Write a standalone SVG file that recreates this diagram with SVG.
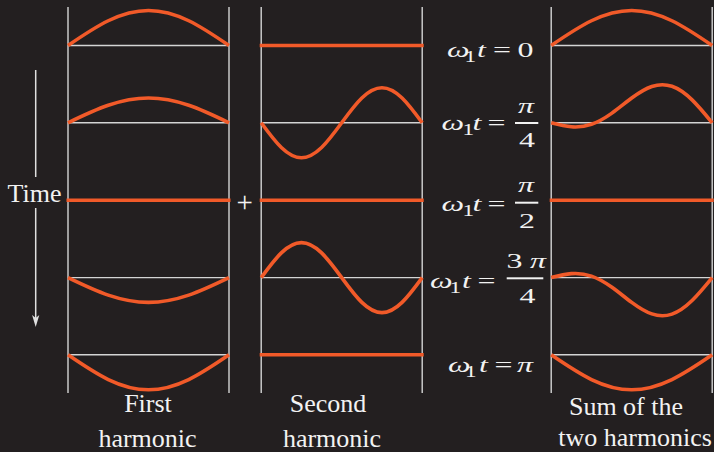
<svg xmlns="http://www.w3.org/2000/svg" xmlns:xlink="http://www.w3.org/1999/xlink" width="714" height="452" viewBox="0 0 714 452">
<style>
.grid{stroke:#d4d4d4;stroke-width:1.4;fill:none}
.wave{fill:none;stroke:#f15a29;stroke-width:3.6;stroke-linejoin:round}
.lbl{font-family:"Liberation Serif","Times New Roman",serif;font-size:26px;fill:#f2f2f2}
.eq{font-family:"Liberation Serif","Times New Roman",serif;font-size:22px;fill:#f2f2f2}
.it{font-style:italic}
.sub{font-size:16px}
.bar{fill:#f2f2f2}
.arrow{stroke:#e0e0e0;stroke-width:1.5;fill:none}
</style>
<defs>
<marker id="ah" viewBox="0 -4 12 8" refX="7" refY="0" markerWidth="12" markerHeight="8" markerUnits="userSpaceOnUse" orient="auto">
<path d="M0,-3.6 L12,0 L0,3.6 L3,0 Z" fill="#e0e0e0"/>
</marker>
<path id="h1a35" d="M0,0 C13.42,-9.16 26.83,-18.27 40.25,-24.75 C53.67,-31.23 67.08,-35 80.5,-35 C93.92,-35 107.33,-31.23 120.75,-24.75 C134.17,-18.27 147.58,-9.16 161,0"/>
<path id="h1a25" d="M0,0 C13.42,-6.48 26.83,-12.92 40.25,-17.5 C53.67,-22.08 67.08,-24.75 80.5,-24.75 C93.92,-24.75 107.33,-22.08 120.75,-17.5 C134.17,-12.92 147.58,-6.48 161,0"/>
<path id="h2" d="M0,0 C6.71,9.16 13.42,18.27 20.13,24.75 C26.83,31.23 33.54,35 40.25,35 C46.96,35 53.67,31.23 60.38,24.75 C67.08,18.27 73.79,9.16 80.5,0 C87.21,-9.16 93.92,-18.27 100.63,-24.75 C107.33,-31.23 114.04,-35 120.75,-35 C127.46,-35 134.17,-31.23 140.88,-24.75 C147.58,-18.27 154.29,-9.16 161,0"/>
<path id="sum" d="M0,0 C6.71,1.73 13.42,3.44 20.13,3.96 C26.83,4.49 33.54,3.79 40.25,1.5 C46.96,-0.79 53.67,-4.67 60.38,-9.43 C67.08,-14.19 73.79,-19.78 80.5,-24.75 C87.21,-29.72 93.92,-34.02 100.63,-36.3 C107.33,-38.58 114.04,-38.79 120.75,-36.5 C127.46,-34.21 134.17,-29.42 140.88,-22.91 C147.58,-16.4 154.29,-8.21 161,0"/>
<path id="flat" d="M-1.5,0 H162.5"/>
</defs>
<rect width="714" height="452" fill="#231f20"/>

<g id="panel-first">
<path class="grid" d="M68,7 V393 M229,7 V393 M68,45.5 H229 M68,122.8 H229 M68,200.2 H229 M68,277.6 H229 M68,354.8 H229"/>
<use href="#h1a35" xlink:href="#h1a35" class="wave" transform="translate(68,45.5)"/>
<use href="#h1a25" xlink:href="#h1a25" class="wave" transform="translate(68,122.8)"/>
<use href="#flat" xlink:href="#flat" class="wave" transform="translate(68,200.2)"/>
<use href="#h1a25" xlink:href="#h1a25" class="wave" transform="translate(68,277.6) scale(1,-1)"/>
<use href="#h1a35" xlink:href="#h1a35" class="wave" transform="translate(68,354.8) scale(1,-1)"/>
</g>

<g id="panel-second">
<path class="grid" d="M261.2,7 V393 M422.2,7 V393 M261.2,45.5 H422.2 M261.2,122.8 H422.2 M261.2,200.2 H422.2 M261.2,277.6 H422.2 M261.2,354.8 H422.2"/>
<use href="#flat" xlink:href="#flat" class="wave" transform="translate(261.2,45.5)"/>
<use href="#h2" xlink:href="#h2" class="wave" transform="translate(261.2,122.8)"/>
<use href="#flat" xlink:href="#flat" class="wave" transform="translate(261.2,200.2)"/>
<use href="#h2" xlink:href="#h2" class="wave" transform="translate(261.2,277.6) scale(1,-1)"/>
<use href="#flat" xlink:href="#flat" class="wave" transform="translate(261.2,354.8)"/>
</g>

<g id="panel-sum">
<path class="grid" d="M551.2,7 V393 M712.2,7 V393 M551.2,45.5 H712.2 M551.2,122.8 H712.2 M551.2,200.2 H712.2 M551.2,277.6 H712.2 M551.2,354.8 H712.2"/>
<use href="#h1a35" xlink:href="#h1a35" class="wave" transform="translate(551.2,45.5)"/>
<use href="#sum" xlink:href="#sum" class="wave" transform="translate(551.2,122.8)"/>
<use href="#flat" xlink:href="#flat" class="wave" transform="translate(551.2,200.2)"/>
<use href="#sum" xlink:href="#sum" class="wave" transform="translate(551.2,277.6) scale(1,-1)"/>
<use href="#h1a35" xlink:href="#h1a35" class="wave" transform="translate(551.2,354.8) scale(1,-1)"/>
</g>

<g id="time-arrow">
<path class="arrow" d="M35.7,70 V177"/>
<path class="arrow" d="M35.7,208 V322" marker-end="url(#ah)"/>
<text class="lbl" x="7.5" y="202.3">Time</text>
</g>

<text id="plus" class="lbl" x="244.7" y="212" text-anchor="middle" style="font-size:29px">+</text>

<g id="eq-row0">
<text class="eq it" transform="matrix(1.45 0 0 1 447 56.5)">ω</text>
<text class="eq sub" transform="matrix(1.45 0 0 1 464.5 61.7)">1</text>
<text class="eq it" transform="matrix(1.45 0 0 1 477 56.5)">t</text>
<text class="eq" transform="matrix(1.45 0 0 1 493 56.5)">=</text>
<text class="eq" transform="matrix(1.45 0 0 1 517.5 56.5)">0</text>
</g>
<g id="eq-row1">
<text class="eq it" transform="matrix(1.45 0 0 1 441.5 130)">ω</text>
<text class="eq sub" transform="matrix(1.45 0 0 1 462.5 135)">1</text>
<text class="eq it" transform="matrix(1.45 0 0 1 472.5 130)">t</text>
<text class="eq" transform="matrix(1.45 0 0 1 487.5 130)">=</text>
<text class="eq it" transform="matrix(1.45 0 0 1 518 113)">π</text>
<rect class="bar" x="515" y="122" width="23.3" height="2"/>
<text class="eq" transform="matrix(1.45 0 0 1 519 146.7)">4</text>
</g>
<g id="eq-row2">
<text class="eq it" transform="matrix(1.45 0 0 1 441.5 211)">ω</text>
<text class="eq sub" transform="matrix(1.45 0 0 1 462.5 216)">1</text>
<text class="eq it" transform="matrix(1.45 0 0 1 472.5 211)">t</text>
<text class="eq" transform="matrix(1.45 0 0 1 487.5 211)">=</text>
<text class="eq it" transform="matrix(1.45 0 0 1 518 191.5)">π</text>
<rect class="bar" x="515" y="201.7" width="23.3" height="2"/>
<text class="eq" transform="matrix(1.45 0 0 1 519 228.3)">2</text>
</g>
<g id="eq-row3">
<text class="eq it" transform="matrix(1.45 0 0 1 430 287.5)">ω</text>
<text class="eq sub" transform="matrix(1.45 0 0 1 449.5 292.5)">1</text>
<text class="eq it" transform="matrix(1.45 0 0 1 462 287.5)">t</text>
<text class="eq" transform="matrix(1.45 0 0 1 477.5 287.5)">=</text>
<text class="eq" transform="matrix(1.45 0 0 1 506.5 268.3)">3</text>
<text class="eq it" transform="matrix(1.45 0 0 1 530 268.3)">π</text>
<rect class="bar" x="506.7" y="277.3" width="36.6" height="2"/>
<text class="eq" transform="matrix(1.45 0 0 1 519.5 303.3)">4</text>
</g>
<g id="eq-row4">
<text class="eq it" transform="matrix(1.45 0 0 1 448 371.5)">ω</text>
<text class="eq sub" transform="matrix(1.45 0 0 1 465 376.5)">1</text>
<text class="eq it" transform="matrix(1.45 0 0 1 479 371.5)">t</text>
<text class="eq" transform="matrix(1.45 0 0 1 494.5 371.5)">=</text>
<text class="eq it" transform="matrix(1.45 0 0 1 517 371.5)">π</text>
</g>

<g id="captions">
<text class="lbl" x="148" y="411.7" text-anchor="middle">First</text>
<text class="lbl" x="147.5" y="446.5" text-anchor="middle">harmonic</text>
<text class="lbl" x="328" y="411.7" text-anchor="middle">Second</text>
<text class="lbl" x="332" y="446.5" text-anchor="middle">harmonic</text>
<text class="lbl" x="626" y="415" text-anchor="middle">Sum of the</text>
<text class="lbl" x="712" y="446" text-anchor="end">two harmonics</text>
</g>
</svg>
